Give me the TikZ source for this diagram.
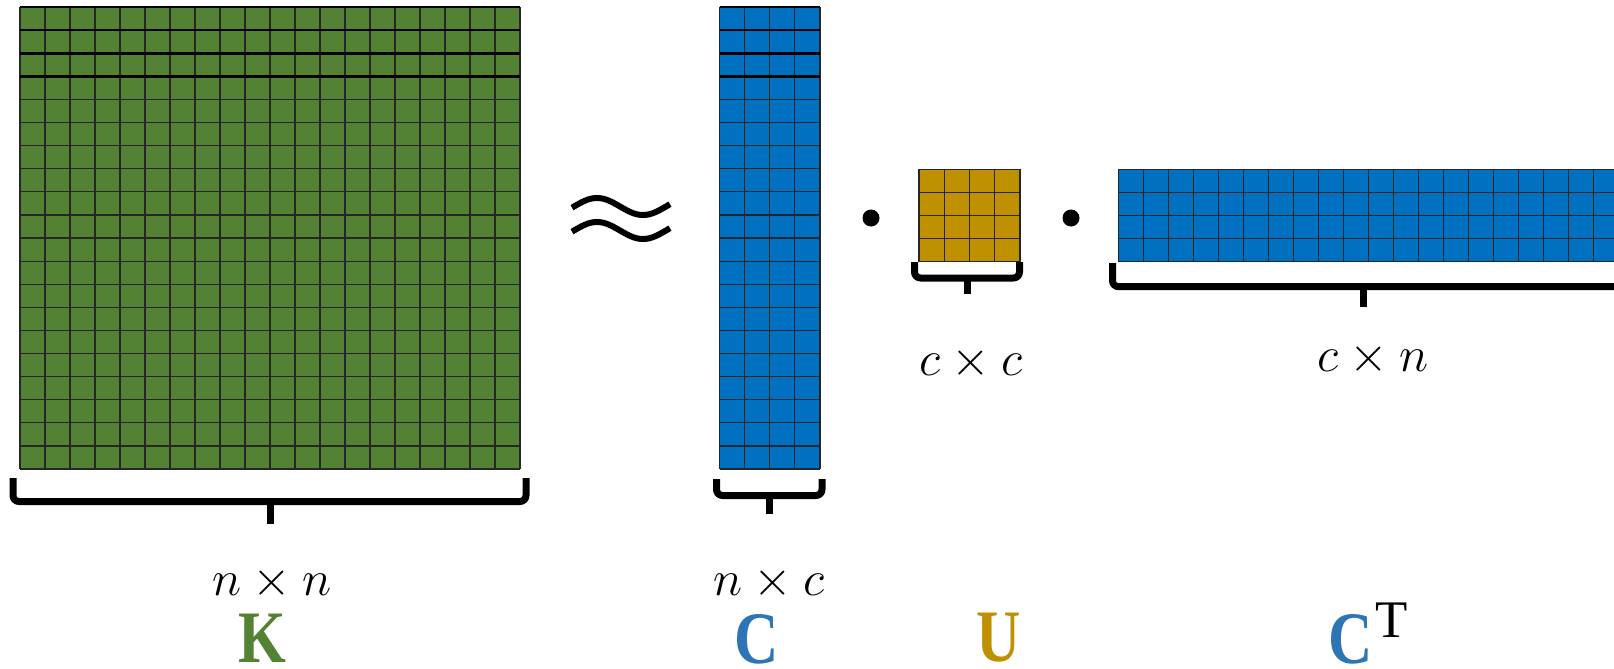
\documentclass[tikz,border=0pt]{standalone}
\usepackage{fontspec}
\setmainfont{Liberation Serif}
\definecolor{kgreen}{HTML}{548235}
\definecolor{cblue}{HTML}{0070C0}
\definecolor{ugold}{HTML}{BF9000}
\definecolor{lblue}{HTML}{2E75B6}
\newcommand\mygrid[7]{%
  \fill[#7] (#1,#2) rectangle ++({#3*#5},{#4*#6});
  \foreach \i in {0,...,#3} \draw[gridline] ({#1+\i*#5},#2) -- ++(0,{#4*#6});
  \foreach \j in {0,...,#4} \draw[gridline] (#1,{#2+\j*#6}) -- ++({#3*#5},0);
}
\begin{document}
\begin{tikzpicture}[x=0.5pt,y=-0.5pt,
  gridline/.style={line width=0.6pt, draw=black!85},
  heavyline/.style={line width=1.3pt, draw=black},
  bracestroke/.style={line width=3.5pt, rounded corners=3pt, line join=round},
  tickstroke/.style={line width=3.5pt},
  dimlabel/.style={anchor=base, inner sep=0pt, font=\fontsize{26}{30}\selectfont},
  namelabel/.style={anchor=base, inner sep=0pt, font=\fontsize{37}{40}\selectfont\bfseries}]
\useasboundingbox (0,0) rectangle (1614,669);
\clip (0,0) rectangle (1614,669);
\fill[white] (0,0) rectangle (1614,669);

% K
\mygrid{20}{7}{20}{20}{25}{23.1}{kgreen}
\foreach \j in {0,...,3} \draw[heavyline] (20,{7+\j*23.1}) -- ++(500,0);
% C
\mygrid{719.5}{7}{4}{20}{25.1}{23.1}{cblue}
\foreach \j in {0,...,3} \draw[heavyline] (719.5,{7+\j*23.1}) -- ++(100.4,0);
% U
\mygrid{919}{169.3}{4}{4}{25.25}{23.1}{ugold}
% C^T
\mygrid{1118.3}{169.3}{20}{4}{25}{23.1}{cblue}

% approx sign
\draw[line width=3pt] plot[domain=572:670, samples=60, smooth] (\x, {206.5-8.5*cos((\x-597)*180/46)});
\draw[line width=3pt] plot[domain=572:670, samples=60, smooth] (\x, {230.5-8.5*cos((\x-597)*180/46)});

% dots
\fill (871,218) circle[radius=4.25pt];
\fill (1071,218) circle[radius=4.25pt];

% braces
\draw[bracestroke] (13,478) -- (13,501.5) -- (526,501.5) -- (526,478);
\draw[tickstroke] (270,501.5) -- (270,524);
\draw[bracestroke] (716.5,479) -- (716.5,495.5) -- (822,495.5) -- (822,479);
\draw[tickstroke] (769,495.5) -- (769,514);
\draw[bracestroke] (914.5,262) -- (914.5,278) -- (1019.5,278) -- (1019.5,262);
\draw[tickstroke] (967,278) -- (967,294);
\draw[bracestroke] (1112.5,263) -- (1112.5,286.7) -- (1620,286.7) -- (1620,263);
\draw[tickstroke] (1363,286.7) -- (1363,307);

% dimension labels
\node[dimlabel] (dimK) at (272,595) {$n\times n$};
\node[dimlabel] (dimC) at (769,595) {$n\times c$};
\node[dimlabel] (dimU) at (971,375) {$c\times c$};
\node[dimlabel] (dimCT) at (1373,371) {$c\times n$};

% names
\node[namelabel, text=kgreen] (labK) at (262,662) {\scalebox{0.83}[1]{K}};
\node[namelabel, text=lblue] (labC) at (757,663) {\scalebox{0.83}[1]{C}};
\node[namelabel, text=ugold] (labU) at (999,661) {\scalebox{0.83}[1]{U}};
\node[namelabel, text=lblue] (labCT) at (1351,663) {\scalebox{0.83}[1]{C}};
\node[anchor=base west, inner sep=0pt, font=\fontsize{26.4}{30}\selectfont] (labT) at (1375,637) {T};
\end{tikzpicture}
\end{document}
